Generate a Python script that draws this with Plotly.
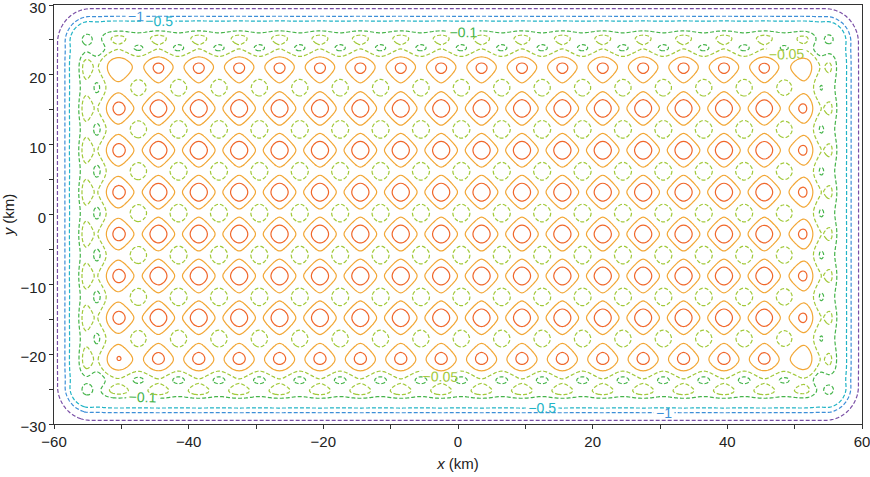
import numpy as np
import plotly.graph_objects as go

# lattice of maxima (km)
peak_x = [-50.5, -44.5, -38.5, -32.5, -26.5, -20.5, -14.5, -8.5, -2.5,
          3.5, 9.5, 15.5, 21.5, 27.5, 33.5, 39.5, 45.5, 51.5]
peak_y = [21.2, 15.2, 9.2, 3.2, -2.8, -8.8, -14.8, -20.8]

# contour levels, colours, labels
levels = [-3, -1, -0.5, -0.1, -0.05, 0.025, 0.08]
level_colors = ["#7a4fa6", "#3d8fd8", "#22b4c6", "#45b44a", "#a2c93a",
                "#f2a736", "#f0672a"]
level_labels = [True, True, True, True, True, False, False]

x_ticks = [-60, -50, -40, -30, -20, -10, 0, 10, 20, 30, 40, 50, 60]
x_ticktext = ["\u221260", "", "\u221240", "", "\u221220", "", "0", "", "20", "", "40", "", "60"]
y_ticks = [-30, -25, -20, -15, -10, -5, 0, 5, 10, 15, 20, 25, 30]
y_ticktext = ["\u221230", "", "\u221220", "", "\u221210", "", "0", "", "10", "", "20", "", "30"]

# grid
xs = np.linspace(-60, 60, 481)
ys = np.linspace(-30, 30, 241)
X, Y = np.meshgrid(xs, ys)

# periodic interior field
period = peak_x[1] - peak_x[0]
k = 2 * np.pi / period
s = np.cos(k * (X - peak_x[0])) + np.cos(k * (Y - peak_y[0]))
z_int = 0.0153 + 0.0526 * s

# distance to edges
dx = np.minimum(X + 60, 60 - X)
dy = np.minimum(Y + 30, 30 - Y)
R = 5.5
corner = (dx < R) & (dy < R)
d = np.minimum(dx, dy)
d = np.where(corner, R - np.sqrt((R - dx) ** 2 + (R - dy) ** 2), d)

W = (1 - np.exp(-(dx / 7.1) ** 2)) * (1 - np.exp(-(dy / 7.1) ** 2))
edge = -5.0 * np.exp(-d)
band = -0.053 * (np.exp(-((dx - 6.3) / 1.2) ** 2) + np.exp(-((dy - 6.3) / 1.2) ** 2))
Z = (W * z_int + edge + band).astype(np.float32)

fig = go.Figure()
for lev, col, lab in zip(levels, level_colors, level_labels):
    fig.add_trace(go.Contour(
        x=xs, y=ys, z=Z,
        autocontour=False,
        contours=dict(start=lev, end=lev, size=1, coloring="lines",
                      showlabels=lab,
                      labelfont=dict(color=col, size=14, family="Liberation Sans")),
        line=dict(color=col, width=1.2, dash="4px,2px" if lev < 0 else "solid"),
        colorscale=[[0, col], [1, col]],
        showscale=False,
        hoverinfo="skip",
    ))

axis_style = dict(
    showline=True, linecolor="#333", linewidth=1, mirror=True,
    ticks="outside", ticklen=4, tickcolor="#333",
    showgrid=False, zeroline=False, automargin=False,
    ticklabeloverflow="allow",
    tickfont=dict(size=15, color="#222"),
)
fig.update_xaxes(range=[-60, 60], tickvals=x_ticks, ticktext=x_ticktext,
                 title=dict(text="<i>x</i> (km)", font=dict(size=15, color="#222"), standoff=9),
                 **axis_style)
fig.update_yaxes(range=[-30, 30], tickvals=y_ticks, ticktext=y_ticktext,
                 ticklabelshift=3,
                 title=dict(text="<i>y</i> (km)", font=dict(size=15, color="#222"), standoff=4),
                 **axis_style)
fig.update_layout(
    width=870, height=477,
    margin=dict(l=54, r=8, t=5, b=53),
    plot_bgcolor="white", paper_bgcolor="white",
    font=dict(family="Liberation Sans", size=15),
    showlegend=False,
)
fig.write_html("out.html", config={"displayModeBar": False},
               post_script="document.body.style.margin='0';")
